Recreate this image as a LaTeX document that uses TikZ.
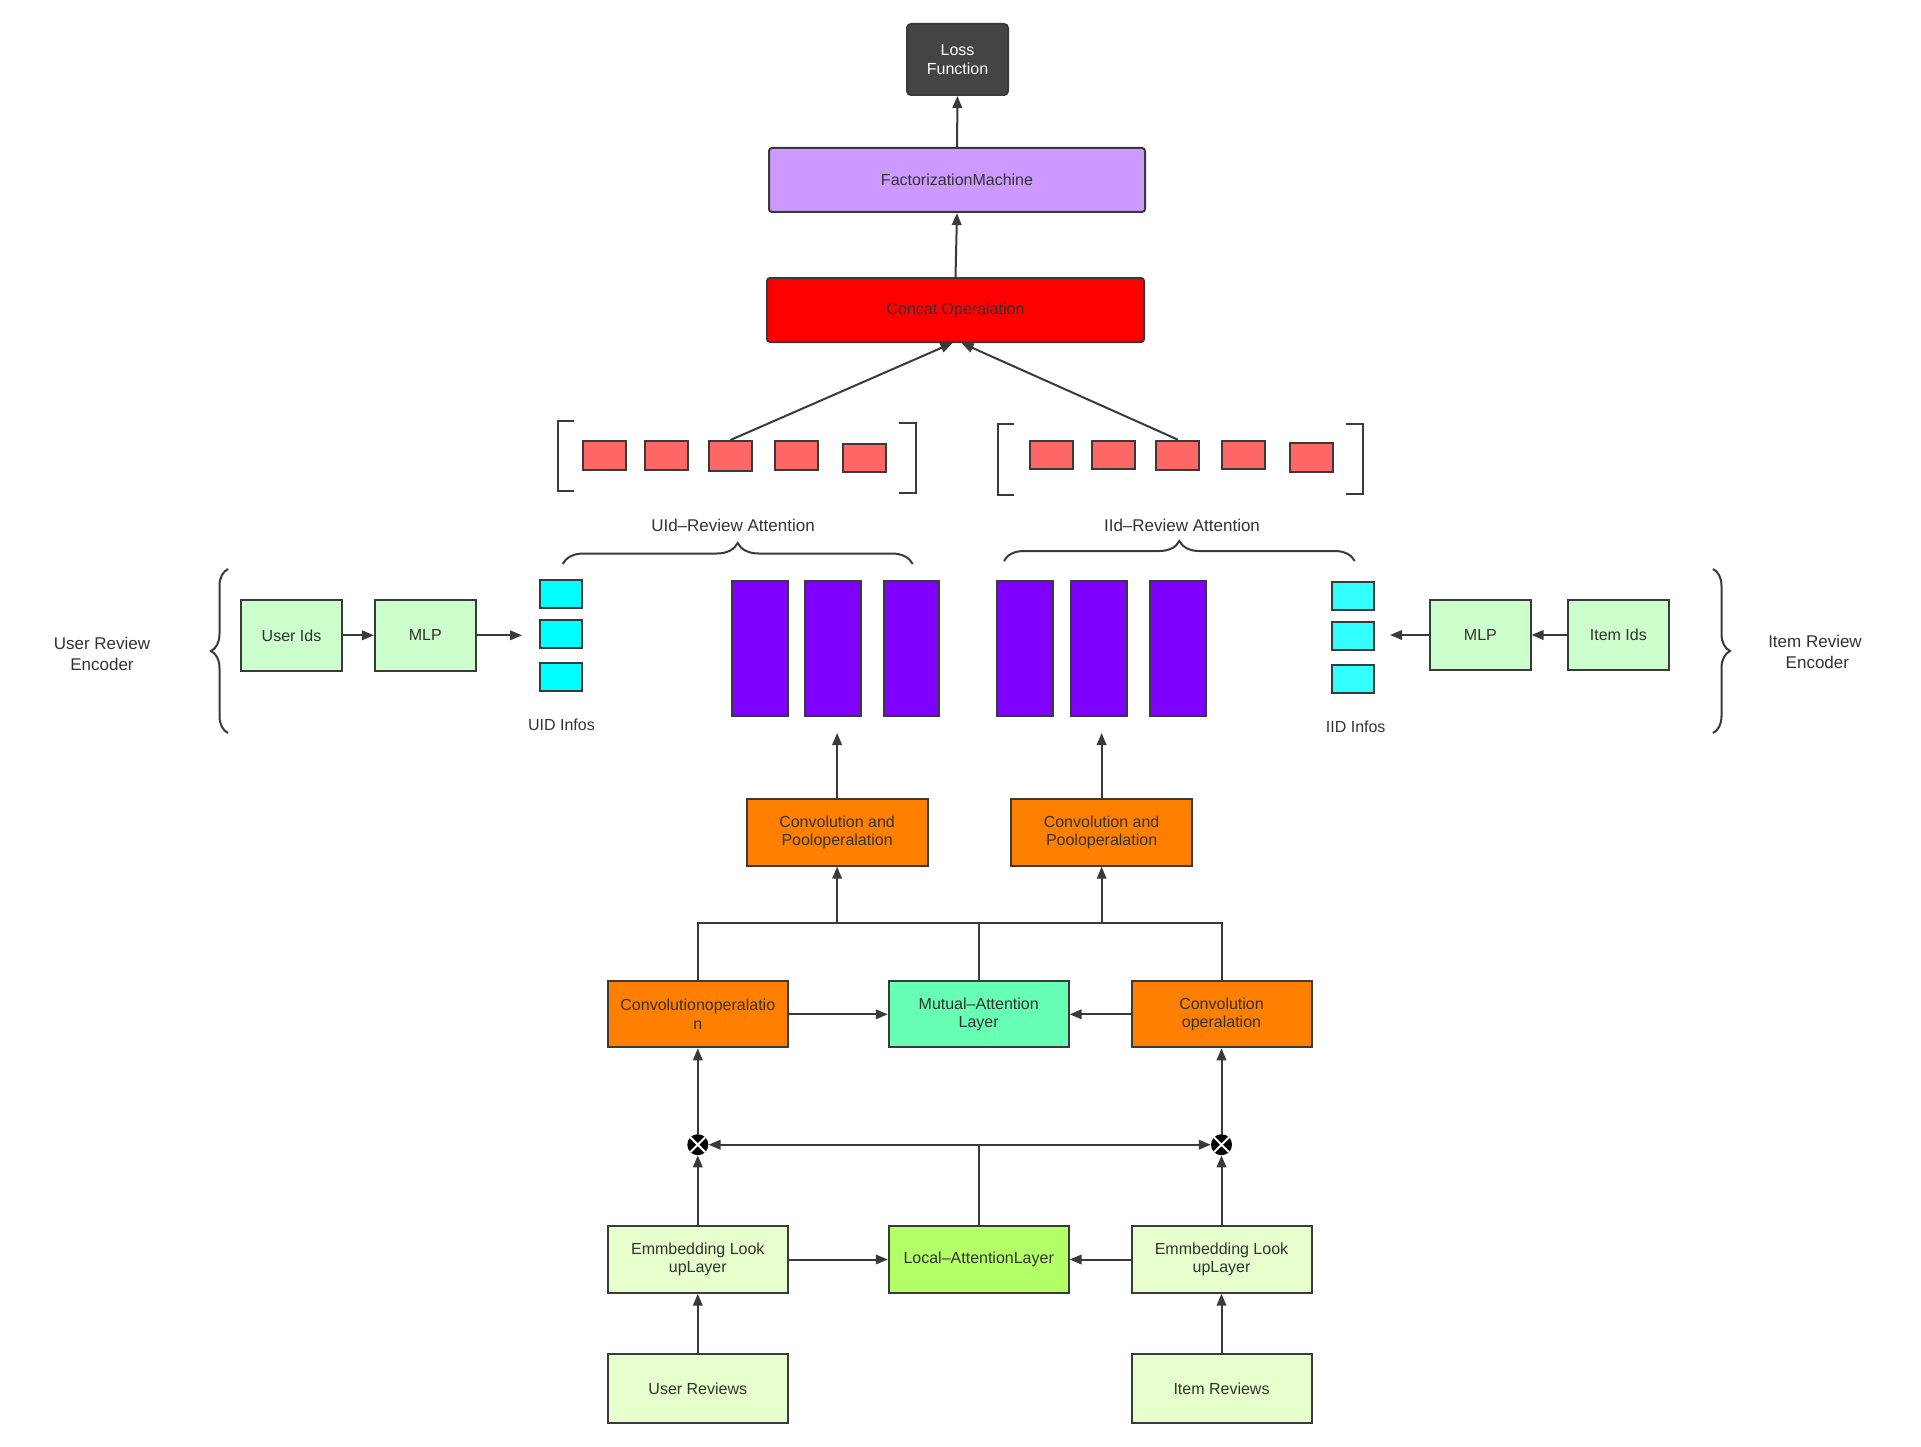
\documentclass[tikz,border=0pt]{standalone}
\usepackage{fontspec}
\setmainfont{Liberation Sans}
\usetikzlibrary{arrows.meta,decorations.pathreplacing,calc}
\definecolor{bd}{HTML}{3A3A3A}
\definecolor{tx}{HTML}{333333}
\definecolor{cLoss}{HTML}{444444}
\definecolor{cFM}{HTML}{CC99FF}
\definecolor{cCat}{HTML}{FF0000}
\definecolor{cRed}{HTML}{FF6666}
\definecolor{cCyanL}{HTML}{00FFFF}
\definecolor{cCyanR}{HTML}{33FFFF}
\definecolor{cPur}{HTML}{7F00FF}
\definecolor{cGrn}{HTML}{CCFFCC}
\definecolor{cOra}{HTML}{FF8000}
\definecolor{cMut}{HTML}{66FFB3}
\definecolor{cLoc}{HTML}{B3FF66}
\definecolor{cEmb}{HTML}{E6FFCC}
\newcommand\boxfont{\fontsize{16}{18.5}\selectfont}
\newcommand\labfont{\fontsize{17}{20.5}\selectfont}
\begin{document}
\begin{tikzpicture}[x=1pt,y=-1pt,
  box/.style={draw=bd, line width=2pt, inner sep=0pt, align=center, text=tx, font=\boxfont},
  wh/.style 2 args={minimum width=#1pt, minimum height=#2pt},
  arr/.style={draw=bd, line width=2pt, -{Triangle[length=12pt,width=9.5pt]}},
  ln/.style={draw=bd, line width=2pt},
  brc/.style={draw=bd, line width=2pt, decorate},
  lab/.style={text=tx, font=\labfont, align=center, inner sep=0pt},
  redr/.style={box, fill=cRed, wh={43}{29}},
  pur/.style={box, fill=cPur, wh={56}{135}},
  otimes/.style={circle, fill=black, minimum size=21pt, inner sep=0pt,
    path picture={\draw[white, line width=2pt]
      (path picture bounding box.north west) -- (path picture bounding box.south east)
      (path picture bounding box.north east) -- (path picture bounding box.south west);}}
]
\fill[white] (0,0) rectangle (1921,1447);
\useasboundingbox (0,0) rectangle (1921,1447);

% top chain
\node[box, fill=cLoss, text=white, rounded corners=4pt, wh={101}{71}] (loss) at (957.5,59.5) {Loss\\Function};
\node[box, fill=cFM, rounded corners=3pt, wh={376}{64}] (fm) at (957,180) {FactorizationMachine};
\node[box, fill=cCat, rounded corners=3pt, wh={377}{64}] (concat) at (955.5,310) {Concat Operalation};
\draw[arr] (fm) -- (loss);
\draw[arr] (concat.north) -- (fm.south);

% left red group
\node[redr] (rl1) at (604.2,455.5) {};
\node[redr] (rl2) at (666.2,455.5) {};
\node[redr, wh={43}{30}] (rl3) at (730.5,456) {};
\node[redr] (rl4) at (796,455.5) {};
\node[redr, wh={43}{28.5}] (rl5) at (864.2,457.8) {};
\draw[ln] (574,421) -- (557.7,421) -- (557.7,491) -- (574,491);
\draw[ln] (899,422.7) -- (916,422.7) -- (916,492.7) -- (899,492.7);
% right red group
\node[redr, wh={42.7}{28.3}] (rr1) at (1051.3,454.8) {};
\node[redr, wh={42.7}{28.3}] (rr2) at (1113.2,454.8) {};
\node[redr, wh={43}{29.3}] (rr3) at (1177.8,455.3) {};
\node[redr, wh={43.3}{28.3}] (rr4) at (1243.3,454.8) {};
\node[redr, wh={42.7}{28.7}] (rr5) at (1311.3,457.3) {};
\draw[ln] (1014,424.3) -- (997.7,424.3) -- (997.7,494.7) -- (1014,494.7);
\draw[ln] (1346,423.7) -- (1362.7,423.7) -- (1362.7,494) -- (1346,494);

\draw[arr] (rl3.north) -- ($(concat.south)+(-3,0)$);
\draw[arr] (rr3.north) -- ($(concat.south)+(6,0)$);

% attention labels and braces
\node[lab] (ual) at (733,525.7) {UId–Review Attention};
\node[lab] (ial) at (1182,525.7) {IId–Review Attention};
\draw[brc, decoration={brace, amplitude=21pt, aspect=0.5}] (562.7,564) -- (912.7,564);
\draw[brc, decoration={brace, amplitude=20pt, aspect=0.5}] (1004,561) -- (1354.7,561);

% purple bars
\node[pur] (pl1) at (759.7,648.5) {};
\node[pur] (pl2) at (832.7,648.5) {};
\node[pur, wh={55.6}{135}] (pl3) at (911.5,648.5) {};
\node[pur] (pr1) at (1025.3,648.5) {};
\node[pur] (pr2) at (1098.7,648.5) {};
\node[pur] (pr3) at (1177.7,648.5) {};

% cyan boxes
\node[box, fill=cCyanL, wh={42.3}{28}] (cl1) at (561.2,594.3) {};
\node[box, fill=cCyanL, wh={42.3}{28.3}] (cl2) at (561.2,633.8) {};
\node[box, fill=cCyanL, wh={42.3}{28}] (cl3) at (561.2,677) {};
\node[box, fill=cCyanR, wh={42.7}{28}] (cr1) at (1353,596) {};
\node[box, fill=cCyanR, wh={42.7}{28.3}] (cr2) at (1353,635.8) {};
\node[box, fill=cCyanR, wh={42.7}{28}] (cr3) at (1353,679) {};
\node[lab, font=\boxfont] (uidl) at (561.5,724.3) {UID Infos};
\node[lab, font=\boxfont] (iidl) at (1355.7,727) {IID Infos};

% encoders
\node[box, fill=cGrn, wh={101}{70.5}] (uids) at (291.5,635.3) {User Ids};
\node[box, fill=cGrn, wh={100.7}{70.5}] (mlpl) at (425.3,635.3) {MLP};
\node[box, fill=cGrn, wh={100.2}{70}] (mlpr) at (1480.4,635) {MLP};
\node[box, fill=cGrn, wh={100.7}{70}] (iids) at (1618.3,635) {Item Ids};
\coordinate (uidtip) at (522,635.3);
\coordinate (iidtip) at (1390,635);
\draw[arr] (uids) -- (mlpl);
\draw[arr] (mlpl) -- (uidtip);
\draw[arr] (iids) -- (mlpr);
\draw[arr] (mlpr) -- (iidtip);
\node[lab] (ure) at (102,654) {User Review\\Encoder};
\node[lab] (ire) at (1815,652) {Item Review\\\ Encoder};
\draw[brc, decoration={brace, amplitude=17pt, aspect=0.5}] (228,733) -- (228,569);
\draw[brc, decoration={brace, amplitude=17pt, aspect=0.5}] (1713,569) -- (1713,733);

% conv + pool
\node[box, fill=cOra, wh={181}{66.4}] (cpl) at (837.1,832.5) {Convolution and\\Pooloperalation};
\node[box, fill=cOra, wh={181}{66.4}] (cpr) at (1101.6,832.5) {Convolution and\\Pooloperalation};
\coordinate (tipl) at (837.1,733);
\coordinate (tipr) at (1101.6,733);
\draw[arr] (cpl) -- (tipl);
\draw[arr] (cpr) -- (tipr);

% conv / mutual
\node[box, fill=cOra, wh={180.4}{66}] (convl) at (697.8,1014.3) {Convolutionoperalatio\\n};
\node[box, fill=cMut, wh={179.8}{66}] (mutual) at (978.7,1014.3) {Mutual–Attention\\Layer};
\node[box, fill=cOra, wh={180}{66}] (convr) at (1221.5,1014.3) {Convolution\\operalation};
\draw[arr] (convl) -- (mutual);
\draw[arr] (convr) -- (mutual);
\coordinate (jm) at (978.7,923.3);
\draw[ln] (convl.north) |- (jm) -| (convr.north);
\draw[ln] (mutual.north) -- (jm);
\draw[arr] (cpl.south |- jm) -- (cpl.south);
\draw[arr] (cpr.south |- jm) -- (cpr.south);

% otimes and local attention
\node[otimes] (otl) at (697.8,1144.7) {};
\node[otimes] (otr) at (1221.5,1144.7) {};
\node[box, fill=cEmb, wh={180.4}{66.4}] (embl) at (697.8,1259.5) {Emmbedding Look\\upLayer};
\node[box, fill=cLoc, wh={179.8}{66.4}] (local) at (978.7,1259.5) {Local–AttentionLayer};
\node[box, fill=cEmb, wh={180}{66.4}] (embr) at (1221.5,1259.5) {Emmbedding Look\\upLayer};
\node[box, fill=cEmb, wh={180.4}{68.4}] (urev) at (697.8,1388.5) {User Reviews};
\node[box, fill=cEmb, wh={180}{68.4}] (irev) at (1221.5,1388.5) {Item Reviews};
\coordinate (jl) at (978.7,1144.7);
\draw[ln] (local.north) -- (jl);
\draw[arr] (jl) -- (otl);
\draw[arr] (jl) -- (otr);
\draw[arr] (embl) -- (otl);
\draw[arr] (embr) -- (otr);
\draw[arr] (otl) -- (convl);
\draw[arr] (otr) -- (convr);
\draw[arr] (embl) -- (local);
\draw[arr] (embr) -- (local);
\draw[arr] (urev) -- (embl);
\draw[arr] (irev) -- (embr);
\end{tikzpicture}
\end{document}
